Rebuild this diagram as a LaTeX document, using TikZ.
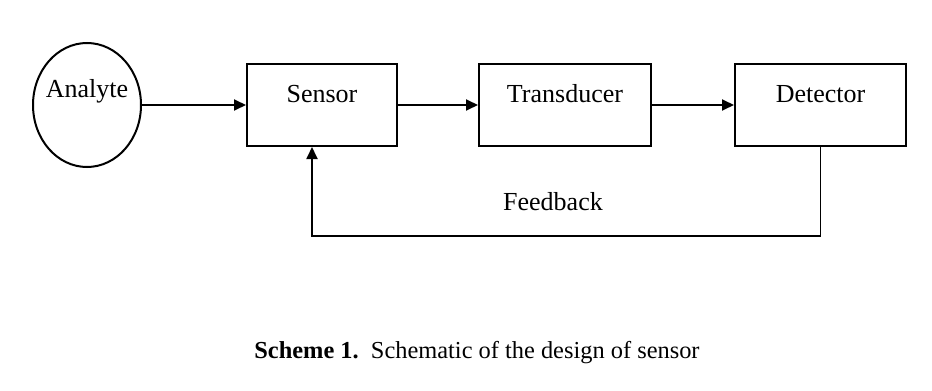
\documentclass[tikz,border=0pt]{standalone}
\usepackage{fontspec}
\setmainfont{Liberation Serif}
\usetikzlibrary{positioning,shapes.geometric,arrows.meta}

\begin{document}
\begin{tikzpicture}[
  x=1pt, y=1pt,
  block/.style={draw, line width=2pt, minimum width=171pt, inner ysep=0pt,
    text height=38pt, text depth=44pt, font=\fontsize{26}{30}\selectfont},
  source/.style={draw, ellipse, line width=2pt, minimum width=108pt, minimum height=124pt},
  flow/.style={line width=1.8pt, -{Triangle[length=12pt,width=11pt]}},
  plain/.style={font=\fontsize{26}{30}\selectfont}
]
  \useasboundingbox (0,0) rectangle (932,-391);

  \node (analyte) [source] at (87,-105) {};
  \node (analytetag) [plain, anchor=base] at ([yshift=8pt]analyte.center) {Analyte};

  \node (sensor) [block, right=104pt of analyte, minimum width=150pt] {Sensor};
  \node (transducer) [block, right=80pt of sensor, minimum width=172pt] {Transducer};
  \node (detector) [block, right=82pt of transducer] {Detector};

  \draw [flow] (analyte) -- (sensor);
  \draw [flow] (sensor) -- (transducer);
  \draw [flow] (transducer) -- (detector);

  \coordinate (fbturn) at (312,-236);
  \draw [flow] (detector.south) |- (fbturn) -- (sensor.south -| fbturn);
  \node (fblabel) [plain] at (553,-202) {Feedback};

  \node (caption) [font=\fontsize{24.4}{28}\selectfont] at (477,-353)
    {\textbf{Scheme 1.}\ \ Schematic of the design of sensor};

\end{tikzpicture}
\end{document}
